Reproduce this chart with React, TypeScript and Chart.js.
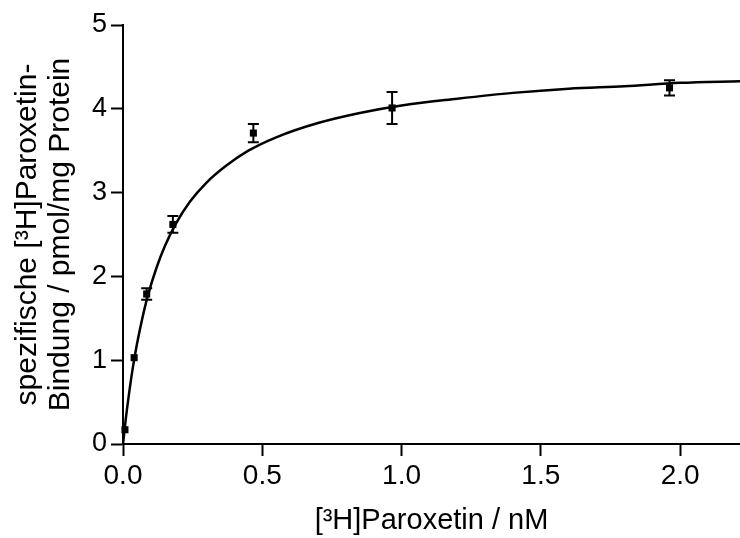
import React, { useEffect, useRef } from "react";
import { Chart, registerables } from "chart.js";

Chart.register(...registerables);

// Measured binding data (mean ± SEM)
const concX = [0.007, 0.04, 0.085, 0.179, 0.468, 0.966, 1.962];
const bindingY = [0.17, 1.03, 1.79, 2.62, 3.71, 4.01, 4.25];
const semY = [0, 0, 0.07, 0.1, 0.11, 0.19, 0.09];

// Fitted saturation curve
const curveX = [0, 0.01, 0.02, 0.035, 0.05, 0.07, 0.09, 0.12, 0.15, 0.19, 0.24, 0.3, 0.37, 0.45, 0.55, 0.7, 0.85, 1.0, 1.2, 1.4, 1.6, 1.8, 2.0, 2.215];
const curveY = [0, 0.3, 0.56, 0.905, 1.19, 1.51, 1.78, 2.1, 2.36, 2.63, 2.89, 3.12, 3.32, 3.5, 3.66, 3.83, 3.95, 4.04, 4.12, 4.19, 4.24, 4.27, 4.31, 4.33];

const xTicks = [0, 0.5, 1.0, 1.5, 2.0];
const yTicks = [0, 1, 2, 3, 4, 5];

const FONT = "'Liberation Sans', Arial, Helvetica, sans-serif";

const errorBarPlugin = {
  id: "errorBars",
  afterDatasetsDraw(chart: any) {
    const { ctx, scales } = chart;
    const xs = scales.x;
    const ys = scales.y;
    ctx.save();
    ctx.strokeStyle = "#000";
    ctx.lineWidth = 2;
    for (let i = 0; i < concX.length; i++) {
      if (!semY[i]) continue;
      const px = xs.getPixelForValue(concX[i]);
      const top = ys.getPixelForValue(bindingY[i] + semY[i]);
      const bot = ys.getPixelForValue(bindingY[i] - semY[i]);
      const cap = 5.5;
      ctx.beginPath();
      ctx.moveTo(px, top);
      ctx.lineTo(px, bot);
      ctx.moveTo(px - cap, top);
      ctx.lineTo(px + cap, top);
      ctx.moveTo(px - cap, bot);
      ctx.lineTo(px + cap, bot);
      ctx.stroke();
    }
    ctx.restore();
  },
};

export default function App() {
  const ref = useRef<HTMLCanvasElement | null>(null);

  useEffect(() => {
    document.body.style.margin = "0";
    const canvas = ref.current;
    if (!canvas) return;
    Chart.defaults.color = "#000";
    const chart = new Chart(canvas, {
      type: "scatter",
      data: {
        datasets: [
          {
            label: "fit",
            data: curveX.map((x, i) => ({ x, y: curveY[i] })),
            showLine: true,
            borderColor: "#000",
            borderWidth: 2.5,
            pointRadius: 0,
            cubicInterpolationMode: "monotone",
            clip: false,
            order: 2,
          } as any,
          {
            label: "data",
            data: concX.map((x, i) => ({ x, y: bindingY[i] })),
            showLine: false,
            pointStyle: "rect",
            pointRadius: 5,
            backgroundColor: "#000",
            borderColor: "#000",
            borderWidth: 0,
            clip: false,
            order: 1,
          } as any,
        ],
      },
      options: {
        responsive: false,
        animation: false,
        layout: { autoPadding: false, padding: { top: 25, right: 0, left: 0, bottom: 0 } },
        plugins: { legend: { display: false }, tooltip: { enabled: false } },
        scales: {
          x: {
            type: "linear",
            min: 0,
            max: 2.215,
            afterFit: (axis: any) => {
              axis.height = 94;
              axis.paddingRight = 0;
              axis.paddingLeft = 0;
            },
            afterBuildTicks: (axis: any) => {
              axis.ticks = xTicks.map((v) => ({ value: v }));
            },
            ticks: {
              includeBounds: false,
              padding: 3,
              font: { family: FONT, size: 28 },
              color: "#000",
              callback: (v: any) => Number(v).toFixed(1),
              maxRotation: 0,
            },
            grid: {
              drawOnChartArea: false,
              drawTicks: true,
              tickLength: 12,
              tickColor: "#000",
              tickWidth: 2,
            },
            border: { display: true, color: "#000", width: 2 },
            title: {
              display: true,
              text: "[³H]Paroxetin / nM",
              font: { family: FONT, size: 29, lineHeight: 1.2 },
              color: "#000",
              padding: { top: 0, bottom: 0 },
            },
          },
          y: {
            type: "linear",
            min: 0,
            max: 5,
            afterFit: (axis: any) => {
              axis.width = 123;
            },
            afterBuildTicks: (axis: any) => {
              axis.ticks = yTicks.map((v) => ({ value: v }));
            },
            ticks: {
              padding: 4,
              font: { family: FONT, size: 27 },
              color: "#000",
              callback: (v: any) => String(v),
            },
            grid: {
              drawOnChartArea: false,
              drawTicks: true,
              tickLength: 12,
              tickColor: "#000",
              tickWidth: 2,
            },
            border: { display: true, color: "#000", width: 2 },
            title: {
              display: true,
              text: ["spezifische [³H]Paroxetin-", "Bindung / pmol/mg Protein"],
              font: { family: FONT, size: 30, lineHeight: 1.11 },
              color: "#000",
              padding: { top: 11, bottom: 0 },
            },
          },
        },
      },
      plugins: [errorBarPlugin],
    });
    return () => chart.destroy();
  }, []);

  return <canvas ref={ref} width={740} height={538} style={{ display: "block" }} />;
}
